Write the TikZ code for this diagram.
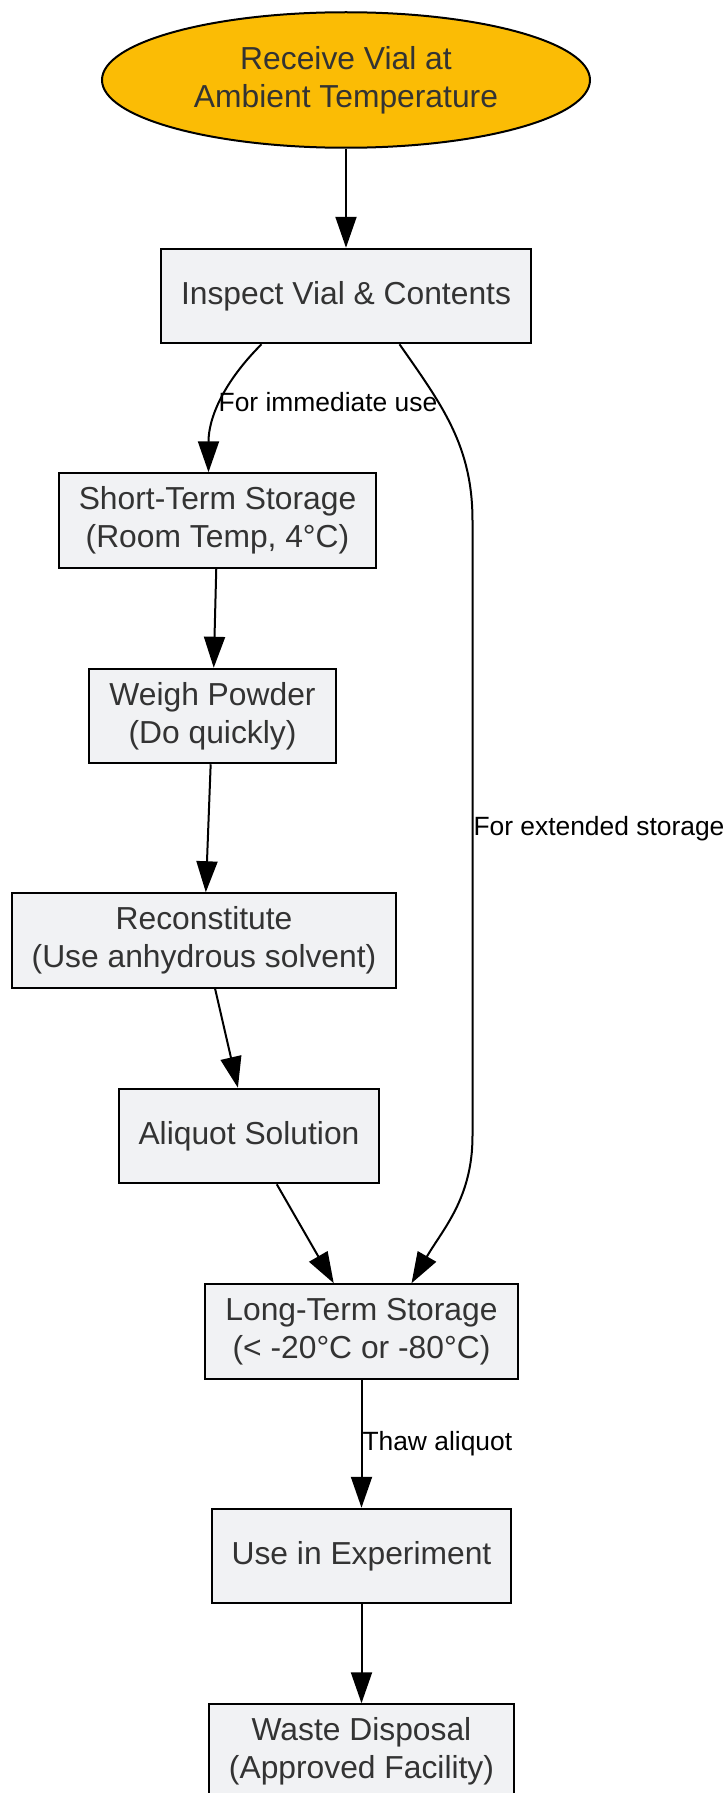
\documentclass[tikz,border=0pt]{standalone}
\usepackage{fontspec}
\setmainfont{Liberation Sans}
\usetikzlibrary{arrows.meta, positioning, shapes.geometric}
\definecolor{vialgold}{HTML}{FBBC05}
\definecolor{boxgray}{HTML}{F1F2F4}
\definecolor{txtgray}{HTML}{333333}

\begin{document}
\begin{tikzpicture}[
    node distance=49.5pt,
box/.style = {draw, line width=1pt, fill=boxgray, minimum height=47.25pt,
              inner xsep=10pt, align=center, text=txtgray,
              font=\fontsize{15.9}{19.1}\selectfont},
recv/.style = {ellipse, draw, line width=1pt, fill=vialgold, minimum width=244pt,
              minimum height=67.75pt, inner sep=0pt, align=center, text=txtgray,
              font=\fontsize{15.9}{19.1}\selectfont},
lbl/.style = {anchor=west, inner sep=0pt, font=\fontsize{13.2}{15.8}\selectfont},
arr/.style = {line width=1pt, -{Triangle[length=15.5pt, width=10.5pt]}}
                        ]
\useasboundingbox (-173pt,40pt) rectangle (189.5pt,-856.5pt);
\node (receive)  [recv] at (0,0)                            {Receive Vial at\\Ambient Temperature};
\node (inspect)  [box,below=of receive]                     {Inspect Vial \& Contents};
\node (short)    [box,below=64pt of inspect,xshift=-64.25pt] {Short-Term Storage\\(Room Temp, 4°C)};
\node (weigh)    [box,below=of short,xshift=-2.5pt]          {Weigh Powder\\(Do quickly)};
\node (recon)    [box,below=64pt of weigh,xshift=-4.25pt]    {Reconstitute\\(Use anhydrous solvent)};
\node (aliquot)  [box,below=of recon,xshift=22.5pt]          {Aliquot Solution};
\node (longterm) [box,below=of aliquot,xshift=56.25pt]       {Long-Term Storage\\(< -20°C or -80°C)};
\node (use)      [box,below=64pt of longterm]                {Use in Experiment};
\node (waste)    [box,below=of use]                          {Waste Disposal\\(Approved Facility)};
%
\coordinate[xshift=63.25pt] (ext1) at (inspect |- short);
\coordinate[xshift=63.25pt] (ext2) at (inspect |- aliquot);
\draw[arr] (receive) -- (inspect);
\draw[arr] ([xshift=-42.25pt] inspect.south) to [out=-135, in=90]
    node[lbl, pos=0.5, xshift=-1.5pt] {For immediate use} ([xshift=-4.5pt] short.north);
\draw[arr] ([xshift=26.75pt] inspect.south) to [out=-55, in=90] (ext1)
    -- node[lbl, pos=0.5] {For extended storage} (ext2)
    to [out=-90, in=60] ([xshift=25pt] longterm.north);
\draw[arr] (short) -- (weigh);
\draw[arr] (weigh) -- (recon);
\draw[arr] (recon) -- (aliquot);
\draw[arr] (aliquot) -- (longterm);
\draw[arr] (longterm) -- node[lbl, midway] {Thaw aliquot} (use);
\draw[arr] (use) -- (waste);
    \end{tikzpicture}
\end{document}
